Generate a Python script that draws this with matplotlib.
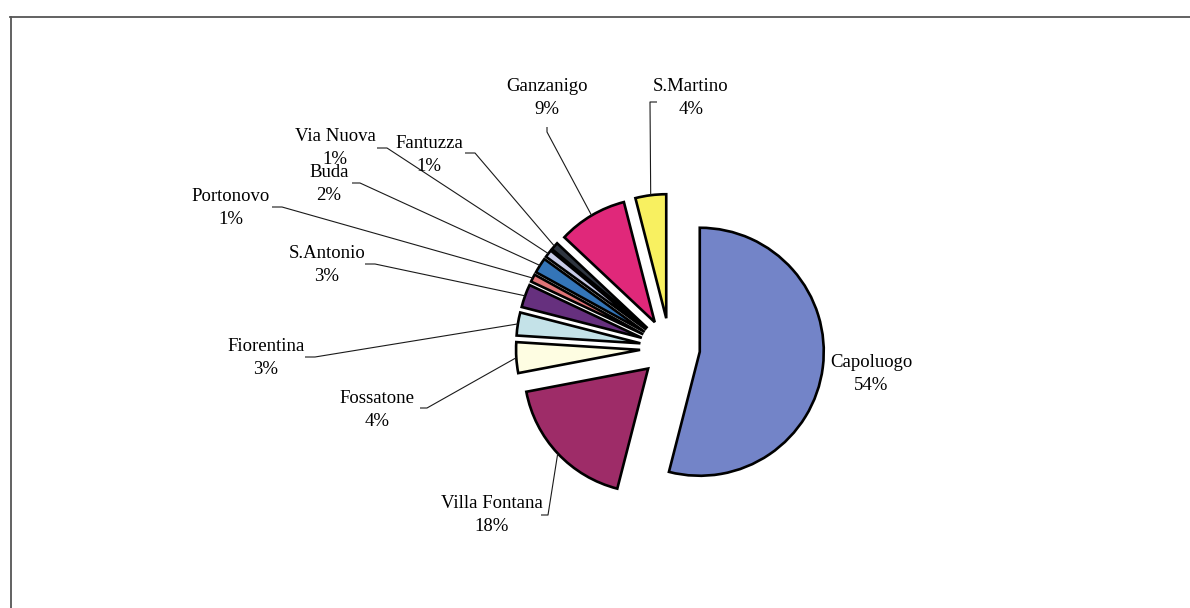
import matplotlib
matplotlib.use("Agg")
import matplotlib.pyplot as plt
from matplotlib.lines import Line2D
import numpy as np

# ---- data ----
categories = ["Capoluogo", "Villa Fontana", "Fossatone", "Fiorentina", "S.Antonio",
              "Portonovo", "Buda", "Via Nuova", "Fantuzza", "Ganzanigo", "S.Martino"]
shares = [54, 18, 4, 3, 3, 1, 2, 1, 1, 9, 4]
colors = ["#7384C8", "#9E2C68", "#FEFDE2", "#C4E2E8", "#66307E",
          "#E07478", "#3475B8", "#C8CCE8", "#2E3540", "#E0287A", "#F8F060"]

# ---- layout (pixel coordinates, y measured from top) ----
W, H = 1190, 608
label_pos = {
    "Capoluogo": (871, 374), "Villa Fontana": (492, 515), "Fossatone": (377, 410),
    "Fiorentina": (266, 358), "S.Antonio": (327, 265), "Portonovo": (231, 208),
    "Buda": (329, 184), "Via Nuova": (335, 148), "Fantuzza": (429, 155),
    "Ganzanigo": (547, 98), "S.Martino": (691, 98),
}
leader = {
    "Villa Fontana": [(541, 515), (548, 515)],
    "Fossatone": [(420, 408), (427, 408)],
    "Fiorentina": [(305, 357), (315, 357)],
    "S.Antonio": [(365, 264), (375, 264)],
    "Portonovo": [(272, 207), (282, 207)],
    "Buda": [(352, 183), (360, 183)],
    "Via Nuova": [(377, 148), (387, 148)],
    "Fantuzza": [(465, 153), (475, 153)],
    "Ganzanigo": [(547, 127), (547, 132)],
    "S.Martino": [(657, 102), (650, 102)],
}


def P(x, y):
    return (x, H - y)


fig = plt.figure(figsize=(W / 100, H / 100), dpi=100)
fig.patch.set_facecolor("white")
ax = fig.add_axes([0, 0, 1, 1])

R = 124
explode = [30] * len(shares)
wedges, _ = ax.pie(shares, explode=explode, radius=R, center=P(670, 348),
                   startangle=90, counterclock=False, colors=colors,
                   wedgeprops=dict(edgecolor="black", linewidth=1.9))
ax.set_xlim(0, W)
ax.set_ylim(0, H)
ax.set_aspect("equal")
ax.axis("off")

font = dict(family="Liberation Serif", size=13.5, color="black")
for name, val, w in zip(categories, shares, wedges):
    lx, ly = label_pos[name]
    ax.text(lx, H - ly, f"{name}\n{val}%", ha="center", va="center",
            multialignment="center", linespacing=1.45, **font)
    if name in leader:
        th = np.deg2rad((w.theta1 + w.theta2) / 2)
        cx, cy = w.center
        ex, ey = cx + w.r * np.cos(th), cy + w.r * np.sin(th)
        pts = [P(*p) for p in leader[name]] + [(ex, ey)]
        xs, ys = zip(*pts)
        ax.plot(xs, ys, color="#1a1a1a", lw=0.8, solid_capstyle="butt")

# frame lines (partial border)
fig.add_artist(Line2D([10.5 / W, 10.5 / W], [0, 1 - 17 / H], color="#555555", lw=1.3))
fig.add_artist(Line2D([10 / W, 1], [1 - 17 / H, 1 - 17 / H], color="#555555", lw=1.3))

fig.savefig("out.png", dpi=100, facecolor="white")
